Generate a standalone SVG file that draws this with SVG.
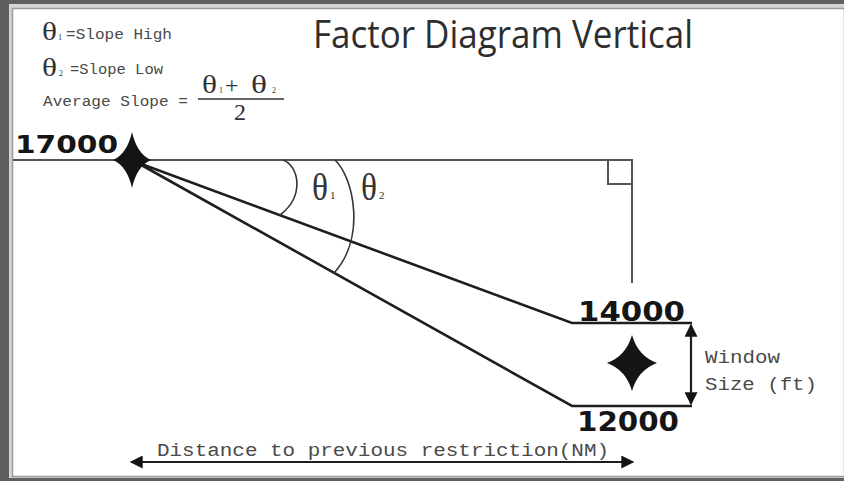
<svg xmlns="http://www.w3.org/2000/svg" width="844" height="481" viewBox="0 0 844 481">
<defs>
<style>
.mono{font-family:"Liberation Mono","DejaVu Sans Mono",monospace;fill:#4a4a4a}
.alt{font-family:"DejaVu Sans","Liberation Sans",sans-serif;font-weight:bold;fill:#151515}
.theta{font-family:"Liberation Serif","DejaVu Serif",serif;fill:#333}
.slope{stroke:#1e1e1e;stroke-width:2.6;fill:none}
.ref{stroke:#555;stroke-width:2;fill:none}
.arc{stroke:#333;stroke-width:1.6;fill:none}
.star{fill:#141414}
.dim{stroke:#1e1e1e;stroke-width:2.2;fill:none}
</style>
<marker id="ah" viewBox="0 0 10 10" refX="9" refY="5" markerWidth="15" markerHeight="13" markerUnits="userSpaceOnUse" orient="auto-start-reverse">
<path d="M0,0 L10,5 L0,10 z" fill="#141414"/>
</marker>
</defs>

<g id="frame">
<rect x="0" y="0" width="844" height="481" fill="#5f5f5f"/>
<rect x="9" y="4" width="835" height="474" fill="#d4d4d4"/>
<rect x="12.5" y="8.5" width="832" height="468" fill="#ffffff" stroke="#9a9a9a" stroke-width="1.5"/>
</g>

<g id="title">
<text x="313" y="48" font-family="'Open Sans','Noto Sans',sans-serif" font-size="38" fill="#2e2e2e" textLength="380" lengthAdjust="spacingAndGlyphs">Factor Diagram Vertical</text>
</g>

<g id="legend">
<text class="theta" x="42" y="40" font-size="26" textLength="15" lengthAdjust="spacingAndGlyphs">θ</text>
<text class="theta" x="58" y="40" font-size="8">1</text>
<text class="mono" x="66" y="39" font-size="14" textLength="106" lengthAdjust="spacingAndGlyphs">=Slope High</text>
<text class="theta" x="42" y="76" font-size="26" textLength="15" lengthAdjust="spacingAndGlyphs">θ</text>
<text class="theta" x="59" y="76" font-size="8">2</text>
<text class="mono" x="70" y="74" font-size="14" textLength="93" lengthAdjust="spacingAndGlyphs">=Slope Low</text>
<text class="mono" x="43" y="106" font-size="14" textLength="145" lengthAdjust="spacingAndGlyphs">Average Slope =</text>
<text class="theta" x="202" y="93" font-size="25" textLength="15" lengthAdjust="spacingAndGlyphs">θ</text>
<text class="theta" x="219" y="93" font-size="8">1</text>
<text class="theta" x="225" y="93" font-size="24">+</text>
<text class="theta" x="251" y="93" font-size="25" textLength="16" lengthAdjust="spacingAndGlyphs">θ</text>
<text class="theta" x="272" y="93" font-size="8">2</text>
<line x1="198" y1="99" x2="284" y2="99" stroke="#333" stroke-width="1.6"/>
<text class="theta" x="240" y="120" font-size="24" text-anchor="middle">2</text>
</g>

<g id="connectors">
<path class="ref" d="M13,160 L632,160 L632,283" stroke-width="2.6"/>
<path class="ref" d="M608,160 L608,184 L632,184"/>
<path class="slope" d="M136,162 L572,323 L692,323"/>
<path class="slope" d="M136,162 L572,406 L692,406"/>
<path class="arc" d="M283,160 C299,166 305,196 280,215"/>
<path class="arc" d="M335,160 C354,178 366,238 334,273"/>
<line class="dim" x1="691" y1="325" x2="691" y2="404" marker-start="url(#ah)" marker-end="url(#ah)"/>
<line class="dim" x1="131" y1="462" x2="633" y2="462" marker-start="url(#ah)" marker-end="url(#ah)"/>
</g>

<g id="angles">
<text class="theta" x="312" y="200" font-size="38" textLength="16" lengthAdjust="spacingAndGlyphs">θ</text>
<text class="theta" x="330" y="199" font-size="11">1</text>
<text class="theta" x="361" y="200" font-size="38" textLength="16" lengthAdjust="spacingAndGlyphs">θ</text>
<text class="theta" x="379" y="199" font-size="11">2</text>
</g>

<g id="node-17000">
<text class="alt" x="15" y="153" font-size="25" textLength="103" lengthAdjust="spacingAndGlyphs">17000</text>
<path class="star" d="M132,132 Q137,154 151,160 Q137,166 132,188 Q127,166 113,160 Q127,154 132,132 Z"/>
</g>

<g id="node-14000">
<text class="alt" x="578" y="321" font-size="26" textLength="107" lengthAdjust="spacingAndGlyphs">14000</text>
</g>

<g id="node-12000">
<text class="alt" x="577" y="431" font-size="26" textLength="102" lengthAdjust="spacingAndGlyphs">12000</text>
</g>

<g id="window">
<path class="star" d="M632,335 Q638,356 657,363 Q638,370 632,391 Q626,370 607,363 Q626,356 632,335 Z"/>
<text class="mono" x="705" y="363" font-size="18" textLength="75" lengthAdjust="spacingAndGlyphs">Window</text>
<text class="mono" x="705" y="390" font-size="18" textLength="112" lengthAdjust="spacingAndGlyphs">Size (ft)</text>
</g>

<g id="distance">
<text class="mono" x="157" y="456" font-size="18" textLength="452" lengthAdjust="spacingAndGlyphs">Distance to previous restriction(NM)</text>
</g>
</svg>
